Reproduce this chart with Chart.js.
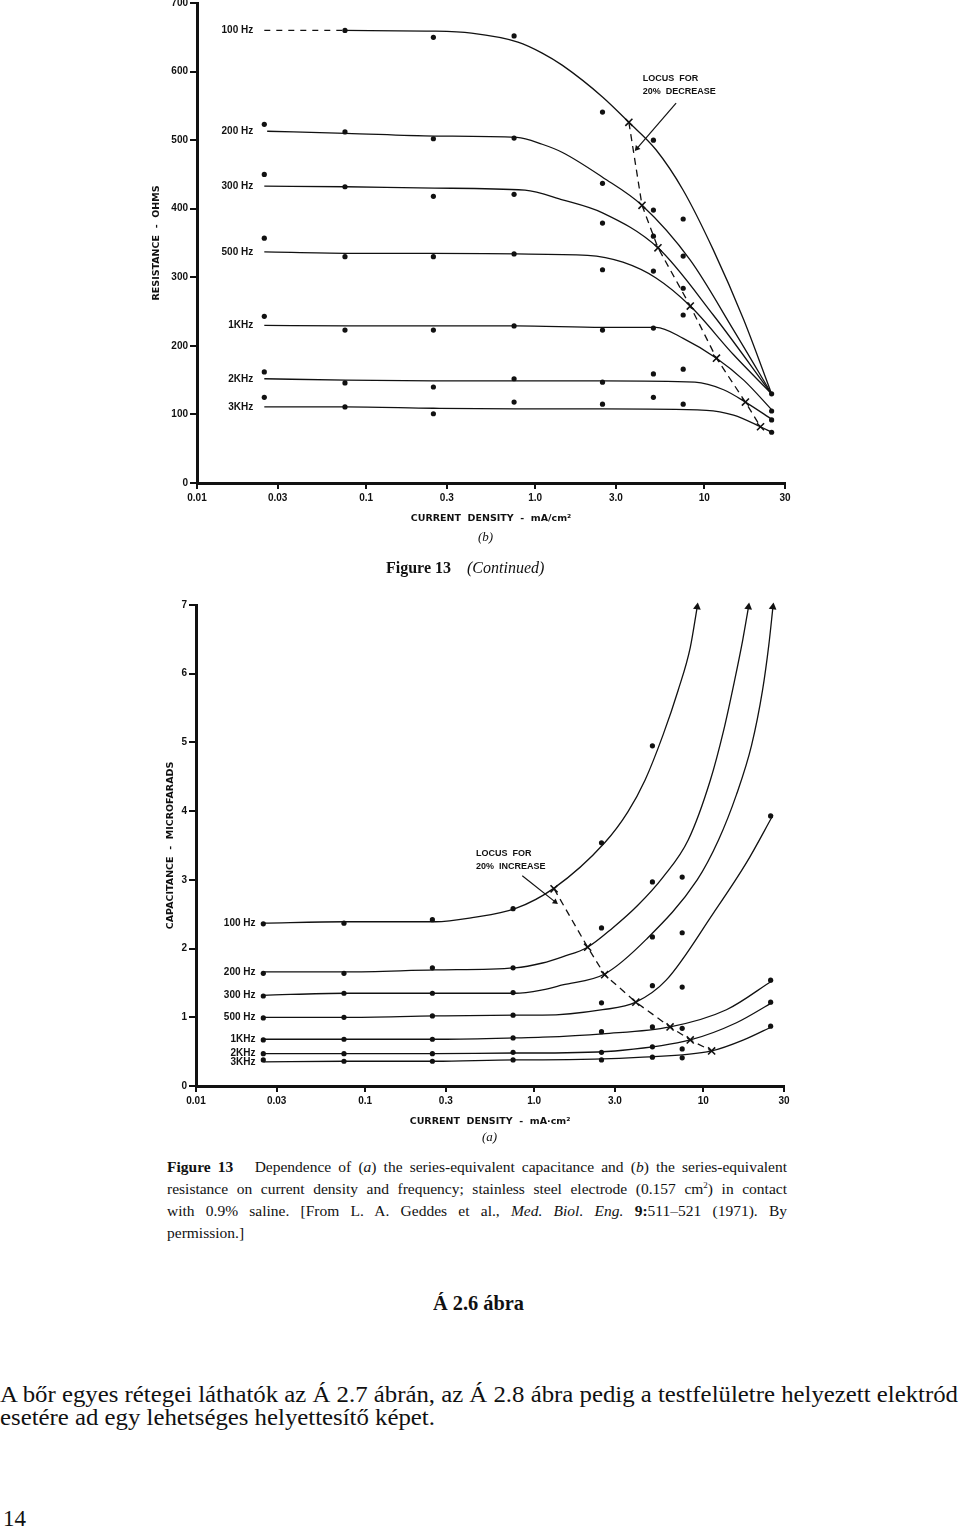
<!DOCTYPE html>
<html lang="en">
<head>
<meta charset="UTF-8">
<title>Figure 13 - resistance and capacitance vs current density</title>
<script src="https://cdn.jsdelivr.net/npm/chart.js"></script>
<style>
  html, body { margin: 0; padding: 0; background: #fff; }
  #page { position: relative; width: 960px; height: 1530px; overflow: hidden; color: #111;
          font-family: "Liberation Serif", "Times New Roman", serif; }
  .box { position: absolute; }
  .txt { position: absolute; white-space: nowrap; }
  .fit { display: inline-block; transform-origin: left center; }
  .cap { position: absolute; left: 167px; width: 620px; font-size: 15.5px; line-height: 22px;
         text-align: justify; text-align-last: justify; white-space: nowrap; }
  sup { font-size: 9px; line-height: 0; }
</style>
</head>
<body>
<div id="page">
  <div class="box" style="left:140px; top:-10px; width:660px; height:540px;"><canvas id="resChart"></canvas></div>
  <div class="txt" style="left:478px; top:529px; font-size:13px; font-style:italic;">(b)</div>
  <div class="txt" style="left:386px; top:559px; font-size:16px;"><b>Figure 13</b>&nbsp;&nbsp;&nbsp;&nbsp;<i>(Continued)</i></div>

  <div class="box" style="left:140px; top:590px; width:660px; height:543px;"><canvas id="capChart"></canvas></div>
  <div class="txt" style="left:482px; top:1129px; font-size:13px; font-style:italic;">(a)</div>

  <div class="cap" style="top:1156px;"><b>Figure 13</b>&nbsp;&nbsp; Dependence of (<i>a</i>) the series-equivalent capacitance and (<i>b</i>) the series-equivalent</div>
  <div class="cap" style="top:1178px;">resistance on current density and frequency; stainless steel electrode (0.157 cm<sup>2</sup>) in contact</div>
  <div class="cap" style="top:1200px;">with 0.9% saline. [From L. A. Geddes et al., <i>Med. Biol. Eng.</i> <b>9:</b>511–521 (1971). By</div>
  <div class="cap" style="top:1222px; text-align-last:left;">permission.]</div>

  <div class="txt" style="left:433px; top:1290px; font-size:22px; font-weight:bold;"><span class="fit" data-fit="91">Á 2.6 ábra</span></div>
  <div class="txt" style="left:0px; top:1380px; font-size:24px; line-height:28px;"><span class="fit" id="body1" data-fit="958">A bőr egyes rétegei láthatók az Á 2.7 ábrán, az Á 2.8 ábra pedig a testfelületre helyezett elektród</span></div>
  <div class="txt" style="left:0px; top:1403px; font-size:24px; line-height:28px;"><span class="fit" id="body2">esetére ad egy lehetséges helyettesítő képet.</span></div>
  <div class="txt" style="left:3px; top:1505px; font-size:23px; line-height:28px;">14</div>
</div>

<script>
// ---- shared x axis (current density, mA/cm2) ----
const xTickValues = [0.01, 0.03, 0.1, 0.3, 1, 3, 10, 30];
const xTickLabels = ['0.01', '0.03', '0.1', '0.3', '1.0', '3.0', '10', '30'];
const freqNames = ['100 Hz', '200 Hz', '300 Hz', '500 Hz', '1KHz', '2KHz', '3KHz'];

// ---- (b) resistance, ohms ----
const resTicks = [0, 100, 200, 300, 400, 500, 600, 700];
const res100Dash = [[0.025, 660], [0.075, 660]];
const res100Curve = [[0.075, 660], [0.244, 659], [0.42, 656], [0.79, 643], [1.10, 627], [1.45, 609], [2.5, 563], [3.58, 526], [5.18, 486], [7.5, 427], [11.3, 340], [17.1, 238], [25, 130]];
const res200Curve = [[0.026, 513], [0.076, 510], [0.254, 506], [0.78, 504], [1.10, 494], [1.45, 482], [2.5, 446], [4.28, 405], [8.26, 325], [14.9, 223], [25, 130]];
const res300Curve = [[0.025, 433], [0.076, 432], [0.254, 430], [0.87, 427], [1.45, 413], [2.5, 394], [5.32, 343], [11.3, 245], [25, 130]];
const res500Curve = [[0.025, 337], [0.076, 335], [0.244, 335], [0.77, 334], [2.04, 332], [3.30, 322], [5.18, 299], [8.26, 258], [14.9, 187], [25, 130]];
const res1kCurve = [[0.025, 230], [0.076, 229], [0.25, 229], [0.77, 229], [2.5, 227], [5.18, 227], [7.5, 211], [11.8, 182], [17.1, 150], [25.4, 105]];
const res2kCurve = [[0.025, 152], [0.076, 150], [0.25, 149], [0.77, 149], [2.5, 149], [8.8, 147], [13.0, 136], [17.5, 118], [25.4, 92]];
const res3kCurve = [[0.025, 111], [0.075, 111], [0.25, 109], [0.77, 108], [2.5, 108], [10.3, 106], [14.9, 99], [21.5, 82], [25, 74]];

const res100Dots = [[0.075, 660], [0.25, 650], [0.75, 652], [2.5, 541], [5, 500], [7.5, 385], [25, 130]];
const res200Dots = [[0.025, 523], [0.075, 512], [0.25, 502], [0.75, 503], [2.5, 437], [5, 398], [7.5, 331]];
const res300Dots = [[0.025, 450], [0.075, 432], [0.25, 418], [0.75, 421], [2.5, 379], [5, 360], [7.5, 284]];
const res500Dots = [[0.025, 357], [0.075, 330], [0.25, 330], [0.75, 334], [2.5, 311], [5, 309], [7.5, 245]];
const res1kDots = [[0.025, 243], [0.075, 223], [0.25, 223], [0.75, 229], [2.5, 223], [5, 226], [25, 105]];
const res2kDots = [[0.025, 162], [0.075, 146], [0.25, 140], [0.75, 152], [2.5, 147], [5, 159], [7.5, 166], [25, 92]];
const res3kDots = [[0.025, 125], [0.075, 111], [0.25, 101], [0.75, 118], [2.5, 115], [5, 125], [7.5, 115], [25, 74]];

const resLocus = [[3.58, 526], [4.28, 405], [5.32, 343], [8.26, 258], [11.8, 182], [17.5, 118], [21.5, 82]];
const resPointer = [[6.81, 554], [4.0, 488]];

// ---- (a) capacitance, microfarads ----
const capTicks = [0, 1, 2, 3, 4, 5, 6, 7];
const cap100Curve = [[0.025, 2.37], [0.076, 2.39], [0.26, 2.39], [0.43, 2.45], [0.77, 2.58], [1.31, 2.88], [2.61, 3.54], [3.58, 3.99], [4.52, 4.45], [5.78, 5.11], [7.10, 5.76], [8.37, 6.38], [9.2, 6.97]];
const cap200Curve = [[0.025, 1.66], [0.076, 1.66], [0.26, 1.69], [0.77, 1.72], [1.12, 1.79], [1.47, 1.88], [2.07, 2.02], [2.91, 2.30], [4.10, 2.63], [5.78, 3.04], [8.14, 3.58], [11.0, 4.45], [13.2, 5.18], [15.3, 5.90], [17.1, 6.49], [18.5, 6.97]];
const cap300Curve = [[0.025, 1.32], [0.076, 1.35], [0.26, 1.35], [0.77, 1.35], [1.12, 1.40], [1.47, 1.47], [2.61, 1.63], [4.58, 2.13], [9.2, 3.00], [12.3, 3.58], [15.7, 4.24], [19.3, 4.96], [22.4, 5.76], [24.4, 6.42], [25.8, 6.97]];
const cap500Curve = [[0.025, 1.00], [0.076, 1.00], [0.26, 1.02], [0.77, 1.03], [1.12, 1.03], [2.54, 1.11], [3.99, 1.22], [6.03, 1.54], [11.5, 2.52], [18.0, 3.25], [25.8, 3.94]];
const cap1kCurve = [[0.025, 0.68], [0.076, 0.68], [0.26, 0.68], [0.77, 0.70], [1.12, 0.71], [2.54, 0.76], [6.36, 0.86], [13.7, 1.11], [25.8, 1.54]];
const cap2kCurve = [[0.025, 0.47], [0.076, 0.47], [0.26, 0.47], [0.77, 0.48], [1.12, 0.48], [3.34, 0.52], [8.37, 0.67], [15.7, 0.92], [25.8, 1.22]];
const cap3kCurve = [[0.025, 0.35], [0.076, 0.36], [0.26, 0.36], [0.77, 0.38], [1.12, 0.38], [4.4, 0.42], [11.2, 0.51], [17.3, 0.67], [25.8, 0.87]];

const cap100Dots = [[0.025, 2.36], [0.075, 2.37], [0.25, 2.42], [0.75, 2.58], [2.5, 3.54], [5, 4.95]];
const cap200Dots = [[0.025, 1.64], [0.075, 1.64], [0.25, 1.72], [0.75, 1.72], [2.5, 2.30], [5, 2.97], [7.5, 3.04]];
const cap300Dots = [[0.025, 1.31], [0.075, 1.35], [0.25, 1.35], [0.75, 1.36], [5, 2.17], [7.5, 2.23]];
const cap500Dots = [[0.025, 0.99], [0.075, 1.00], [0.25, 1.02], [0.75, 1.03], [2.5, 1.21], [5, 1.46], [7.5, 1.44], [25, 3.93]];
const cap1kDots = [[0.025, 0.67], [0.075, 0.68], [0.25, 0.68], [0.75, 0.70], [2.5, 0.79], [5, 0.86], [7.5, 0.84], [25, 1.54]];
const cap2kDots = [[0.025, 0.47], [0.075, 0.47], [0.25, 0.47], [0.75, 0.49], [2.5, 0.49], [5, 0.57], [7.5, 0.54], [25, 1.22]];
const cap3kDots = [[0.025, 0.38], [0.075, 0.36], [0.25, 0.36], [0.75, 0.38], [2.5, 0.38], [5, 0.42], [7.5, 0.41], [25, 0.87]];

const capLocus = [[1.31, 2.87], [2.07, 2.02], [2.61, 1.62], [3.99, 1.22], [6.36, 0.86], [8.37, 0.67], [11.2, 0.51]];
const capPointer = [[0.85, 3.06], [1.33, 2.68]];

// ---- drawing helpers ----
const ink = '#111';
const tickFont = { family: '"Liberation Sans", Arial, sans-serif', size: 10, weight: 'bold' };
const titleFont = { family: '"DejaVu Sans", sans-serif', size: 9.5, weight: 'bold' };
const xy = arr => arr.map(p => ({ x: p[0], y: p[1] }));

function curveSet(arr, extra) {
    return Object.assign({
        data: xy(arr), showLine: true, borderColor: ink, borderWidth: 1.3,
        pointRadius: 0, cubicInterpolationMode: 'monotone', fill: false
    }, extra || {});
}
function dotSet(arr) {
    return { data: xy(arr), showLine: false, pointRadius: 2.6, pointBackgroundColor: ink, pointBorderWidth: 0, clip: false };
}
function locusSet(arr) {
    return {
        data: xy(arr), showLine: true, borderColor: ink, borderWidth: 1.3, borderDash: [7, 5],
        pointStyle: 'crossRot', pointRadius: 5, pointBorderColor: ink, pointBorderWidth: 1.6, clip: false
    };
}
function pointerSet(arr, angle) {
    return {
        data: xy(arr), showLine: true, borderColor: ink, borderWidth: 1.2,
        pointStyle: 'triangle', pointRadius: [0, 3.5], pointRotation: [0, angle],
        pointBackgroundColor: ink, pointBorderWidth: 0, clip: false
    };
}
function arrowCurve(arr) {
    const n = arr.length;
    return curveSet(arr, {
        pointStyle: 'triangle', pointRotation: 8, pointBackgroundColor: ink, pointBorderWidth: 0,
        pointRadius: ctx => ctx.dataIndex === n - 1 ? 4.5 : 0, clip: false
    });
}

function xScale(title) {
    return {
        type: 'logarithmic', min: 0.01, max: 30,
        afterBuildTicks: s => { s.ticks = xTickValues.map(v => ({ value: v })); },
        afterFit: s => { s.height = 42; },
        ticks: { callback: v => xTickLabels[xTickValues.indexOf(v)], font: tickFont, color: ink, padding: 3, maxRotation: 0, autoSkip: false },
        grid: { drawOnChartArea: false, drawTicks: true, tickLength: 6, color: ink, lineWidth: 2 },
        border: { color: ink, width: 3 },
        title: { display: true, text: title, font: titleFont, color: ink, padding: { top: 0, bottom: 1 } }
    };
}
function yScale(ticks, width, title) {
    return {
        type: 'linear', min: ticks[0], max: ticks[ticks.length - 1],
        afterBuildTicks: s => { s.ticks = ticks.map(v => ({ value: v })); },
        afterFit: s => { s.width = width; },
        ticks: { font: tickFont, color: ink, padding: 2 },
        grid: { drawOnChartArea: false, drawTicks: true, tickLength: 7, color: ink, lineWidth: 2 },
        border: { color: ink, width: 3 },
        title: { display: true, text: title, font: titleFont, color: ink, padding: { top: 3, bottom: 0 } }
    };
}

// frequency names at the start of each curve, and the "LOCUS FOR" note
const figLabels = {
    id: 'figLabels',
    afterDatasetsDraw(chart, args, opts) {
        const { ctx, scales: { x, y } } = chart;
        ctx.save();
        ctx.fillStyle = ink;
        ctx.font = 'bold 10px "Liberation Sans", Arial, sans-serif';
        ctx.textAlign = 'right';
        ctx.textBaseline = 'middle';
        const px = x.getPixelForValue(opts.labelX);
        opts.labelY.forEach((v, i) => ctx.fillText(freqNames[i], px, y.getPixelForValue(v)));
        ctx.font = 'bold 9px "Liberation Sans", Arial, sans-serif';
        ctx.textAlign = 'left';
        const nx = x.getPixelForValue(opts.noteAt[0]), ny = y.getPixelForValue(opts.noteAt[1]);
        opts.note.forEach((line, i) => ctx.fillText(line, nx, ny + i * 13));
        ctx.restore();
    }
};

function baseOptions(padding, yCfg, xTitle, labelOpts) {
    return {
        responsive: true, maintainAspectRatio: false, animation: false,
        layout: { padding: padding },
        plugins: { legend: { display: false }, tooltip: { enabled: false }, figLabels: labelOpts },
        scales: { x: xScale(xTitle), y: yCfg }
    };
}

// ---- (b) resistance chart ----
const resCurves = [res100Curve, res200Curve, res300Curve, res500Curve, res1kCurve, res2kCurve, res3kCurve];
const resDots = [res100Dots, res200Dots, res300Dots, res500Dots, res1kDots, res2kDots, res3kDots];
new Chart(document.getElementById('resChart'), {
    type: 'line',
    data: {
        datasets: [curveSet(res100Dash, { borderDash: [6, 6] })]
            .concat(resCurves.map(c => curveSet(c)))
            .concat(resDots.map(dotSet))
            .concat([locusSet(resLocus), pointerSet(resPointer, 220)])
    },
    options: baseOptions({ left: 8, right: 15, top: 13, bottom: 5 },
        yScale(resTicks, 49, 'RESISTANCE  -  OHMS'),
        'CURRENT  DENSITY  -  mA/cm²',
        { labelX: 0.0215, labelY: [res100Dash[0][1]].concat(resCurves.slice(1).map(c => c[0][1])),
          noteAt: [4.33, 590], note: ['LOCUS  FOR', '20%  DECREASE'] }),
    plugins: [figLabels]
});

// ---- (a) capacitance chart ----
const capCurves = [cap100Curve, cap200Curve, cap300Curve, cap500Curve, cap1kCurve, cap2kCurve, cap3kCurve];
const capDots = [cap100Dots, cap200Dots, cap300Dots, cap500Dots, cap1kDots, cap2kDots, cap3kDots];
new Chart(document.getElementById('capChart'), {
    type: 'line',
    data: {
        datasets: capCurves.map((c, i) => i < 3 ? arrowCurve(c) : curveSet(c))
            .concat(capDots.map(dotSet))
            .concat([locusSet(capLocus), pointerSet(capPointer, 128)])
    },
    options: baseOptions({ left: 22, right: 16, top: 15, bottom: 5 },
        yScale(capTicks, 34, 'CAPACITANCE  -  MICROFARADS'),
        'CURRENT  DENSITY  -  mA·cm²',
        { labelX: 0.0225, labelY: capCurves.map(c => c[0][1]),
          noteAt: [0.452, 3.39], note: ['LOCUS  FOR', '20%  INCREASE'] }),
    plugins: [figLabels]
});

// squeeze the condensed text lines to their widths in the scan
document.querySelectorAll('.fit[data-fit]').forEach(el => {
    const k = +el.dataset.fit / el.getBoundingClientRect().width;
    el.style.transform = 'scaleX(' + k + ')';
    if (el.id === 'body1') document.getElementById('body2').style.transform = 'scaleX(' + k + ')';
});
</script>
</body>
</html>
